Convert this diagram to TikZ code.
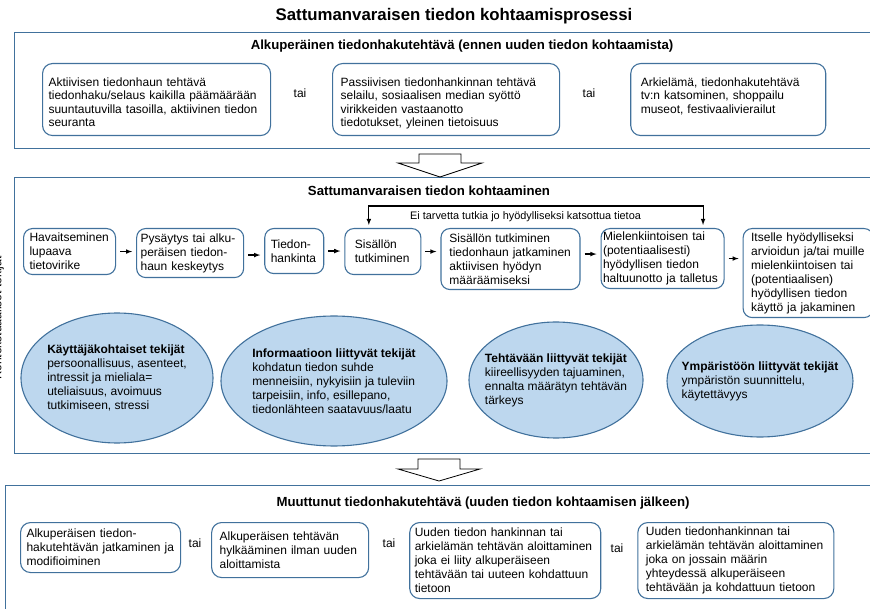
\documentclass[tikz,border=0pt]{standalone}
\usepackage{fontspec}
\setmainfont{Liberation Sans}
\usepackage{tikz}
\usetikzlibrary{shapes,arrows,positioning}
\definecolor{frameblue}{RGB}{65, 113, 156}
\definecolor{factorblue}{RGB}{189, 215, 238}
\tikzstyle{frame} = [draw=frameblue, line width=1pt, anchor=north west, inner sep=0pt]
\tikzstyle{task} = [draw=frameblue, line width=1.1pt, rounded corners=10pt, anchor=north west, align=left, font=\fontsize{12}{13.3}\selectfont, inner ysep=0pt, text height=23pt, text depth=49pt]
\tikzstyle{stage} = [draw=frameblue, line width=1.1pt, rounded corners=9pt, anchor=north west, align=left, font=\fontsize{12}{14}\selectfont, inner ysep=2pt]
\tikzstyle{factor} = [ellipse, draw=frameblue, line width=1.1pt, fill=factorblue, inner sep=0pt]
\tikzstyle{factortext} = [align=left, font=\fontsize{12}{14}\selectfont, inner sep=0pt]
\tikzstyle{heading} = [font=\bfseries\fontsize{13.2}{15}\selectfont, anchor=base]
\tikzstyle{ortext} = [font=\fontsize{12}{14}\selectfont]
\tikzstyle{pedge} = [draw, line width=1.1pt, >=latex, ->, shorten <=4pt, shorten >=4pt]
\tikzstyle{fedge} = [draw, line width=1.1pt, >=latex, <->, shorten <=3pt, shorten >=3pt]
\tikzstyle{hollow} = [draw=black, fill=white, line width=0.8pt]

\begin{document}
\begin{tikzpicture}[x=1pt, y=1pt]
\useasboundingbox (0,0) rectangle (870,-609);

% frames =============================
\node[frame, minimum width=870pt, minimum height=116pt] (origtask) at (14,-32) {};
\node[frame, minimum width=870pt, minimum height=276pt] (encounter) at (14,-177) {};
\node[frame, minimum width=880pt, minimum height=140pt] (newtask) at (5,-485) {};

% titles
\node[font=\bfseries\fontsize{16.8}{20}\selectfont, anchor=base] (title) at (454,-20.5) {Sattumanvaraisen tiedon kohtaamisprosessi};
\node[heading] (h1) at (462,-49.5) {Alkuperäinen tiedonhakutehtävä (ennen uuden tiedon kohtaamista)};
\node[heading] (h2) at (429,-196) {Sattumanvaraisen tiedon kohtaaminen};
\node[heading] (h3) at (483,-506) {Muuttunut tiedonhakutehtävä (uuden tiedon kohtaamisen jälkeen)};
\node[rotate=90, anchor=base, font=\fontsize{12}{14}\selectfont] (ctx) at (1.5,-318) {Kontekstuaaliset tekijät};

% original task
\node[task, text width=216pt, inner xsep=6pt] (a1) at (42,-63) {Aktiivisen tiedonhaun tehtävä\\tiedonhaku/selaus kaikilla päämäärään\\suuntautuvilla tasoilla, aktiivinen tiedon\\seuranta};
\node[task, text width=211pt, inner xsep=8pt, right=61pt of a1.north east, anchor=north west] (a2) {Passiivisen tiedonhankinnan tehtävä\\selailu, sosiaalisen median syöttö\\virikkeiden vastaanotto\\tiedotukset, yleinen tietoisuus};
\node[task, text width=175pt, inner xsep=10pt, right=70pt of a2.north east, anchor=north west] (a3) {Arkielämä, tiedonhakutehtävä\\tv:n katsominen, shoppailu\\museot, festivaalivierailut};
\node[ortext] (or1) at (300,-93) {tai};
\node[ortext] (or2) at (589,-93) {tai};

% hollow arrows
\coordinate (down1) at (440,-154);
\draw[hollow] (down1) ++(-21,0) -- ++(42,0) -- ++(0,-9) -- ++(21,0) -- ++(-42,-14) -- ++(-42,14) -- ++(21,0) -- cycle;
\coordinate (down2) at (439,-459);
\draw[hollow] (down2) ++(-21,0) -- ++(42,0) -- ++(0,-10) -- ++(20,0) -- ++(-41,-12) -- ++(-41,12) -- ++(20,0) -- cycle;

% process =============================
\node[stage, text width=80pt, inner xsep=6pt, minimum height=46pt] (b1) at (23,-228) {Havaitseminen\\lupaava\\tietovirike};
\node[stage, text width=99pt, inner xsep=4pt, minimum height=49pt, right=20pt of b1.north east, anchor=north west] (b2) {Pysäytys tai alku-\\peräisen tiedon-\\haun keskeytys};
\node[stage, text width=47pt, inner xsep=6pt, minimum height=45pt, right=20pt of b2.north east, anchor=north west] (b3) {Tiedon-\\hankinta};
\node[stage, text width=56pt, inner xsep=10pt, minimum height=46pt, right=20pt of b3.north east, anchor=north west] (b4) {Sisällön\\tutkiminen};
\node[stage, text width=122pt, inner xsep=8.5pt, minimum height=61pt, right=19pt of b4.north east, anchor=north west] (b5) {Sisällön tutkiminen\\tiedonhaun jatkaminen\\aktiivisen hyödyn\\määräämiseksi};
\node[stage, text width=119pt, inner xsep=2pt, minimum height=60pt, right=20pt of b5.north east, anchor=north west] (b6) {Mielenkiintoisen tai\\(potentiaalisesti)\\hyödyllisen tiedon\\haltuunotto ja talletus};
\node[stage, text width=114pt, inner xsep=8pt, minimum height=89pt, right=18pt of b6.north east, anchor=north west] (b7) {Itselle hyödylliseksi\\arvioidun ja/tai muille\\mielenkiintoisen tai\\(potentiaalisen)\\hyödyllisen tiedon\\käyttö ja jakaminen};

% skip loop
\coordinate (loop) at (530,-206);
\node[font=\fontsize{10.9}{13}\selectfont, anchor=base] (skip) at (525.5,-220) {Ei tarvetta tutkia jo hyödylliseksi katsottua tietoa};

% factors
\node[factor, minimum width=192pt, minimum height=130pt] (e1) at (117,-378) {};
\node[factortext] (t1) at (e1) {\textbf{Käyttäjäkohtaiset tekijät}\\persoonallisuus, asenteet,\\intressit ja mieliala=\\uteliaisuus, avoimuus\\tutkimiseen, stressi};
\node[factor, minimum width=226pt, minimum height=130pt] (e2) at (334,-381) {};
\node[factortext] (t2) at (e2) {\textbf{Informaatioon liittyvät tekijät}\\kohdatun tiedon suhde\\menneisiin, nykyisiin ja tuleviin\\tarpeisiin, info, esillepano,\\tiedonlähteen saatavuus/laatu};
\node[factor, minimum width=174pt, minimum height=116pt] (e3) at (556,-380) {};
\node[factortext] (t3) at (e3) {\textbf{Tehtävään liittyvät tekijät}\\kiireellisyyden tajuaminen,\\ennalta määrätyn tehtävän\\tärkeys};
\node[factor, minimum width=186pt, minimum height=112pt] (e4) at (760,-381) {};
\node[factortext] (t4) at (e4) {\textbf{Ympäristöön liittyvät tekijät}\\ympäristön suunnittelu,\\käytettävyys};

% changed task =============================
\node[stage, rounded corners=10pt, text width=148pt, inner xsep=6pt, minimum height=50pt] (c1) at (20,-522) {Alkuperäisen tiedon-\\hakutehtävän jatkaminen ja\\modifioiminen};
\node[stage, rounded corners=10pt, text width=141pt, inner xsep=8pt, minimum height=55pt, right=30pt of c1.north east, anchor=north west] (c2) {Alkuperäisen tehtävän\\hylkääminen ilman uuden\\aloittamista};
\node[stage, rounded corners=10pt, text width=181pt, inner xsep=5pt, minimum height=76pt, right=40pt of c2.north east, anchor=north west] (c3) {Uuden tiedon hankinnan tai\\arkielämän tehtävän aloittaminen\\joka ei liity alkuperäiseen\\tehtävään tai uuteen kohdattuun\\tietoon};
\node[stage, rounded corners=10pt, text width=180pt, inner xsep=8pt, minimum height=76pt, right=36pt of c3.north east, anchor=north west] (c4) {Uuden tiedonhankinnan tai\\arkielämän tehtävän aloittaminen\\joka on jossain määrin\\yhteydessä alkuperäiseen\\tehtävään ja kohdattuun tietoon};
\node[ortext] (or3) at (195,-543) {tai};
\node[ortext] (or4) at (389,-543) {tai};
\node[ortext] (or5) at (617,-548) {tai};

%edges
\path[pedge] (b1.east) -- (b1.east -| b2.west);
\path[pedge] ([yshift=-2pt]b2.east) -- ([yshift=-2pt]b2.east -| b3.west);
\path[pedge] (b3.east) -- (b3.east -| b4.west);
\path[pedge] (b4.east) -- (b4.east -| b5.west);
\path[pedge] ([yshift=5pt]b5.east) -- ([yshift=5pt]b5.east -| b6.west);
\path[pedge] (b6.east) -- (b6.east -| b7.west);
\path[fedge] ([xshift=-14pt]b4.north) |- (loop) -| ([xshift=40.5pt]b6.north);

\end{tikzpicture}
\end{document}
